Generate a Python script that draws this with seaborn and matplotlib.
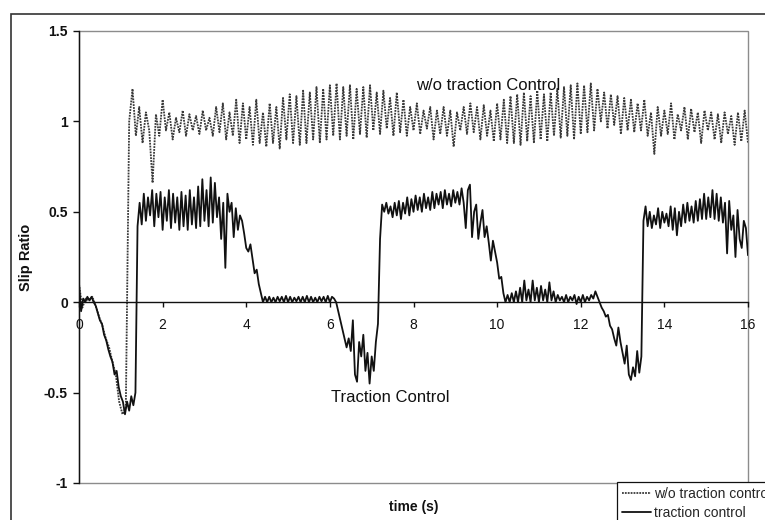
import numpy as np
import pandas as pd
import matplotlib
matplotlib.use("Agg")
import matplotlib.pyplot as plt
from matplotlib.patches import Rectangle
import seaborn as sns

# ---------------- data ----------------
dt_tc = 0.05   # sampling interval of traction-control trace (s)
dt_wo = 0.08   # sampling interval of w/o traction-control trace (s)

slip_tc = [
    0.10, -0.05, 0.02, 0.00, 0.03, 0.01, 0.03, 0.00, -0.02, -0.06,
    -0.10, -0.12, -0.18, -0.21, -0.26, -0.30, -0.33, -0.40, -0.38, -0.47,
    -0.52, -0.55, -0.62, -0.55, -0.60, -0.52, -0.57, -0.50, 0.42, 0.55,
    0.43, 0.60, 0.45, 0.58, 0.48, 0.62, 0.42, 0.60, 0.47, 0.61,
    0.40, 0.58, 0.45, 0.62, 0.41, 0.60, 0.44, 0.58, 0.40, 0.61,
    0.42, 0.59, 0.40, 0.62, 0.43, 0.58, 0.41, 0.64, 0.42, 0.68,
    0.45, 0.62, 0.42, 0.69, 0.44, 0.66, 0.47, 0.58, 0.35, 0.55,
    0.19, 0.60, 0.50, 0.55, 0.36, 0.52, 0.40, 0.48, 0.45, 0.38,
    0.30, 0.28, 0.32, 0.24, 0.16, 0.18, 0.10, 0.05, 0.00, 0.03,
    0.00, 0.03, 0.00, 0.025, 0.00, 0.03, 0.005, 0.03, 0.00, 0.035,
    0.00, 0.03, 0.00, 0.025, 0.005, 0.03, 0.00, 0.03, 0.00, 0.035,
    0.00, 0.03, 0.00, 0.025, 0.00, 0.03, 0.005, 0.03, 0.00, 0.035,
    0.00, 0.03, 0.02, 0.00, -0.05, -0.10, -0.15, -0.20, -0.25, -0.20,
    -0.27, -0.10, -0.40, -0.44, -0.22, -0.30, -0.18, -0.38, -0.28, -0.45,
    -0.30, -0.38, -0.22, -0.12, 0.35, 0.54, 0.50, 0.55, 0.49, 0.53,
    0.47, 0.55, 0.48, 0.56, 0.46, 0.55, 0.49, 0.58, 0.48, 0.57,
    0.50, 0.59, 0.51, 0.58, 0.50, 0.60, 0.52, 0.58, 0.51, 0.61,
    0.52, 0.60, 0.54, 0.61, 0.52, 0.62, 0.54, 0.60, 0.53, 0.62,
    0.55, 0.61, 0.54, 0.63, 0.55, 0.41, 0.62, 0.65, 0.36, 0.50,
    0.54, 0.35, 0.44, 0.51, 0.36, 0.42, 0.33, 0.23, 0.34, 0.28,
    0.22, 0.13, 0.14, 0.05, 0.00, 0.04, 0.00, 0.05, 0.00, 0.06,
    0.00, 0.08, 0.00, 0.12, 0.01, 0.07, 0.00, 0.12, 0.01, 0.08,
    0.00, 0.09, 0.01, 0.07, 0.00, 0.11, 0.01, 0.06, 0.00, 0.04,
    0.01, 0.03, 0.00, 0.04, 0.00, 0.03, 0.01, 0.04, -0.01, 0.03,
    0.00, 0.04, 0.00, 0.03, 0.01, 0.04, 0.02, 0.06, 0.03, 0.00,
    -0.03, -0.05, -0.08, -0.07, -0.13, -0.15, -0.20, -0.24, -0.14, -0.22,
    -0.28, -0.34, -0.24, -0.40, -0.43, -0.36, -0.41, -0.27, -0.39, -0.30,
    0.45, 0.53, 0.42, 0.50, 0.41, 0.48, 0.43, 0.52, 0.41, 0.50,
    0.44, 0.49, 0.42, 0.53, 0.40, 0.52, 0.37, 0.50, 0.42, 0.54,
    0.44, 0.55, 0.45, 0.53, 0.44, 0.56, 0.45, 0.57, 0.46, 0.60,
    0.46, 0.58, 0.47, 0.62, 0.46, 0.60, 0.45, 0.58, 0.44, 0.55,
    0.27, 0.56, 0.40, 0.48, 0.25, 0.51, 0.35, 0.30, 0.45, 0.41,
    0.26,
]

slip_wo = [
    0.10, -0.03, 0.02, 0.01, 0.03, -0.02, -0.08, -0.13, -0.20, -0.25,
    -0.33, -0.40, -0.55, -0.62, -0.58, 1.00, 1.18, 0.92, 1.08, 0.88,
    1.05, 0.95, 0.66, 1.04, 0.92, 1.12, 0.95, 1.05, 0.90, 1.02,
    0.94, 1.06, 0.92, 1.04, 0.95, 1.03, 0.93, 1.06, 0.95, 1.02,
    0.92, 1.08, 0.94, 1.10, 0.90, 1.05, 0.92, 1.12, 0.88, 1.10,
    0.90, 1.08, 0.87, 1.12, 0.88, 1.05, 0.86, 1.10, 0.88, 1.08,
    0.85, 1.13, 0.90, 1.15, 0.88, 1.14, 0.87, 1.17, 0.88, 1.16,
    0.90, 1.19, 0.88, 1.18, 0.90, 1.20, 0.92, 1.21, 0.90, 1.19,
    0.92, 1.20, 0.90, 1.18, 0.93, 1.19, 0.91, 1.20, 0.95, 1.16,
    0.93, 1.17, 0.96, 1.13, 0.92, 1.16, 0.94, 1.12, 0.92, 1.08,
    0.95, 1.10, 0.93, 1.06, 0.96, 1.08, 0.90, 1.06, 0.93, 1.08,
    0.92, 1.06, 0.86, 1.05, 0.95, 1.08, 0.93, 1.10, 0.94, 1.08,
    0.90, 1.09, 0.92, 1.06, 0.89, 1.10, 0.90, 1.12, 0.88, 1.14,
    0.88, 1.15, 0.87, 1.16, 0.89, 1.14, 0.88, 1.17, 0.90, 1.15,
    0.89, 1.16, 0.92, 1.18, 0.91, 1.19, 0.92, 1.20, 0.90, 1.21,
    0.93, 1.20, 0.94, 1.21, 0.95, 1.18, 1.00, 1.16, 0.96, 1.15,
    0.98, 1.14, 0.93, 1.13, 0.95, 1.12, 0.94, 1.10, 0.95, 1.12,
    0.92, 1.05, 0.82, 1.08, 0.92, 1.06, 0.93, 1.10, 0.90, 1.04,
    0.95, 1.08, 0.90, 1.07, 0.94, 1.05, 0.88, 1.06, 0.95, 1.05,
    0.90, 1.04, 0.88, 1.05, 0.93, 1.03, 0.87, 1.05, 0.89, 1.06,
    0.88,
]

t_tc = np.arange(len(slip_tc)) * dt_tc
t_wo = np.arange(len(slip_wo)) * dt_wo

x_ticks = [0, 2, 4, 6, 8, 10, 12, 14, 16]
y_ticks = [-1, -0.5, 0, 0.5, 1, 1.5]
y_tick_labels = ["-1", "-0.5", "0", "0.5", "1", "1.5"]

df_tc = pd.DataFrame({"time": t_tc, "slip": slip_tc})
df_wo = pd.DataFrame({"time": t_wo, "slip": slip_wo})

# ---------------- style ----------------
sns.set_theme(style="white")
plt.rcParams["font.family"] = ["Liberation Sans", "DejaVu Sans"]

fig = plt.figure(figsize=(7.65, 5.2), dpi=100)
ax = fig.add_axes([79 / 765, 1 - 483 / 520, 669 / 765, 452 / 520])

sns.lineplot(data=df_wo, x="time", y="slip", ax=ax, color="#3a3a3a",
             linestyle=(0, (1, 0.6)), linewidth=1.3, estimator=None,
             sort=False, label="w/o traction control")
sns.lineplot(data=df_tc, x="time", y="slip", ax=ax, color="#111111",
             linewidth=1.3, estimator=None, sort=False,
             label="traction control")

ax.set_xlim(0, 16)
ax.set_ylim(-1, 1.5)
ax.set_xticks(x_ticks)
ax.set_xticklabels([str(v) for v in x_ticks])
ax.set_yticks(y_ticks)
ax.set_yticklabels(y_tick_labels)
for lab in ax.get_xticklabels() + ax.get_yticklabels():
    lab.set_fontweight("bold")

# Excel-like axes: x axis crossing at y=0
ax.spines["bottom"].set_position(("data", 0))
ax.spines["bottom"].set_color("#111111")
ax.spines["bottom"].set_linewidth(1.0)
ax.spines["left"].set_color("#111111")
ax.spines["left"].set_linewidth(1.0)
ax.spines["top"].set_visible(False)
ax.spines["right"].set_visible(False)
ax.add_patch(Rectangle((0, 0), 1, 1, transform=ax.transAxes, fill=False,
                       edgecolor="#8c8c8c", linewidth=1.0, zorder=0.5,
                       clip_on=False))

ax.tick_params(axis="x", direction="out", length=3.5, width=1, colors="#111111",
               pad=8, labelsize=10, bottom=True)
ax.tick_params(axis="y", direction="out", length=4, width=1, colors="#111111",
               pad=4, labelsize=10, left=True)

ax.set_xlabel("time (s)", fontsize=10, fontweight="bold", color="#111111")
ax.set_ylabel("Slip Ratio", fontsize=10.5, fontweight="bold", color="#111111")
ax.xaxis.set_label_coords(0.5, -0.038)
ax.yaxis.set_label_coords(-0.069, 0.5)

ax.text(9.78, 1.20, "w/o traction Control", fontsize=12, ha="center",
        va="center", color="#111111")
ax.text(7.44, -0.525, "Traction Control", fontsize=12, ha="center",
        va="center", color="#111111")

leg = ax.legend(loc="upper left", bbox_to_anchor=(617 / 765, 1 - 482 / 520),
                bbox_transform=fig.transFigure, fontsize=10, frameon=True,
                fancybox=False, borderaxespad=0, borderpad=0.35,
                labelspacing=0.35, handlelength=2.1, handletextpad=0.2)
leg.get_frame().set_edgecolor("#111111")
leg.get_frame().set_linewidth(0.9)
leg.get_frame().set_alpha(1)

# outer chart-area border
fig.patches.append(Rectangle((11 / 765, -0.5), 2, 0.5 + (1 - 14 / 520),
                             transform=fig.transFigure, fill=False,
                             edgecolor="#333333", linewidth=1.2))

fig.savefig("out.png", dpi=100)
